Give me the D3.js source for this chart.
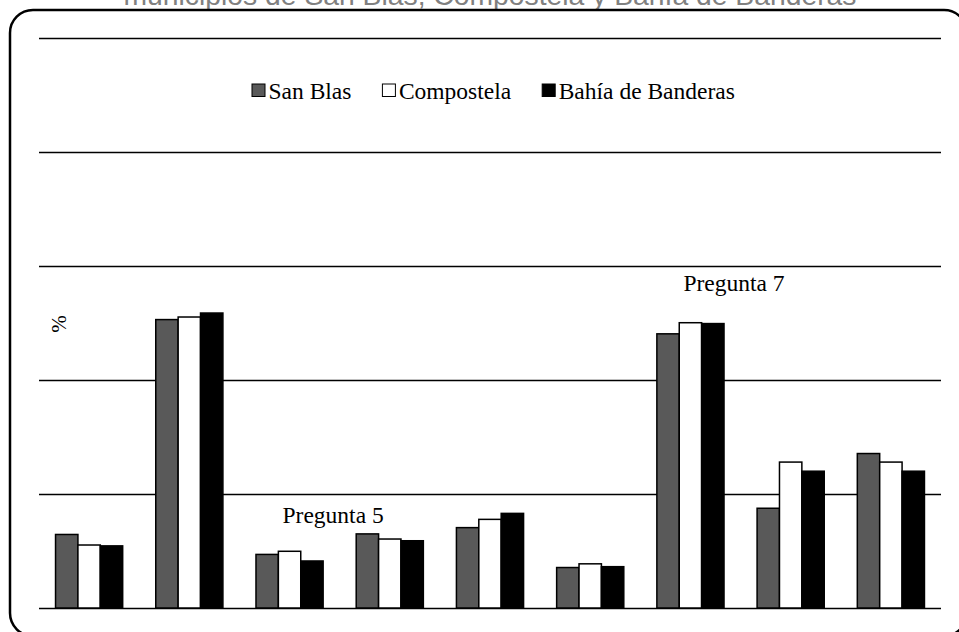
<!DOCTYPE html>
<html>
<head>
<meta charset="utf-8">
<script src="https://cdn.jsdelivr.net/npm/d3@7"></script>
<style>
  html, body { margin: 0; padding: 0; background: #fff; }
  svg { display: block; }
</style>
</head>
<body>
<div id="chart"></div>
<script>
// Survey items (one cluster of bars each)
const categories = ["1", "2", "3", "4", "5", "6", "7", "8", "9"];

// Municipalities
const seriesNames = ["San Blas", "Compostela", "Bahía de Banderas"];
const seriesColors = ["#595959", "#ffffff", "#000000"];

// Percentages per municipality
const sanBlas     = [12.9, 50.6, 9.4, 13.0, 14.1, 7.1, 48.1, 17.5, 27.1];
const compostela  = [11.05, 51.05, 9.95, 12.1, 15.55, 7.75, 50.05, 25.6, 25.6];
const bahia       = [10.9, 51.75, 8.25, 11.8, 16.6, 7.25, 49.9, 24.0, 24.0];

// Y axis gridline values
const yTicks = [0, 20, 40, 60, 80, 100];

// Question annotations: which cluster they sit over and at what value
const noteCats   = ["3", "7"];
const noteTexts  = ["Pregunta 5", "Pregunta 7"];
const noteValues = [15.0, 55.7];

const titleText = "municipios de San Blas, Compostela y Bahía de Banderas";

const W = 959, H = 632;
const svg = d3.select("#chart").append("svg")
  .attr("width", W).attr("height", H);

const plot = { left: 39, right: 941, top: 38, bottom: 608 };

const x0 = d3.scaleBand()
  .domain(categories)
  .range([plot.left, plot.right])
  .paddingInner(0.33)
  .paddingOuter(0.165);

const x1 = d3.scaleBand()
  .domain(seriesNames)
  .range([0, x0.bandwidth()])
  .padding(0);

const y = d3.scaleLinear()
  .domain([0, 100])
  .range([plot.bottom, plot.top]);

const color = d3.scaleOrdinal().domain(seriesNames).range(seriesColors);

const seriesValues = [sanBlas, compostela, bahia];
const rows = categories.map((c, i) => ({
  cat: c,
  values: seriesNames.map((s, j) => ({ key: s, value: seriesValues[j][i] }))
}));

// Title (partly cropped by the top edge)
svg.append("text")
  .attr("x", (plot.left + plot.right) / 2)
  .attr("y", 5)
  .attr("text-anchor", "middle")
  .attr("font-family", "'Liberation Sans', Arial, sans-serif")
  .attr("font-size", 28.3)
  .attr("fill", "#808080")
  .text(titleText);

// Rounded frame
svg.append("rect")
  .attr("x", 10).attr("y", 10)
  .attr("width", 957).attr("height", 626)
  .attr("rx", 23).attr("ry", 23)
  .attr("fill", "none")
  .attr("stroke", "#000")
  .attr("stroke-width", 2.5);

// Horizontal gridlines via a D3 axis
const yAxis = d3.axisLeft(y)
  .tickValues(yTicks)
  .tickSize(-(plot.right - plot.left))
  .tickFormat("");

svg.append("g")
  .attr("transform", `translate(${plot.left},0)`)
  .call(yAxis)
  .call(g => g.select(".domain").remove())
  .call(g => g.selectAll(".tick line")
    .attr("stroke", "#000")
    .attr("stroke-width", 1.3));

// Bars
const groups = svg.append("g").selectAll("g")
  .data(rows)
  .join("g")
  .attr("transform", d => `translate(${x0(d.cat)},0)`);

groups.selectAll("rect")
  .data(d => d.values)
  .join("rect")
  .attr("x", d => x1(d.key))
  .attr("y", d => y(d.value))
  .attr("width", x1.bandwidth())
  .attr("height", d => y(0) - y(d.value))
  .attr("fill", d => color(d.key))
  .attr("stroke", "#000")
  .attr("stroke-width", 1.5);

// Axis unit label
svg.append("text")
  .attr("transform", "translate(66,324) rotate(-90)")
  .attr("text-anchor", "middle")
  .attr("font-family", "'Liberation Serif', 'Times New Roman', serif")
  .attr("font-size", 21)
  .attr("fill", "#000")
  .text("%");

// Question annotations
noteCats.forEach((c, i) => {
  svg.append("text")
    .attr("x", x0(c) + x0.bandwidth() / 2 - 7)
    .attr("y", y(noteValues[i]))
    .attr("font-family", "'Liberation Serif', 'Times New Roman', serif")
    .attr("font-size", 23.5)
    .attr("fill", "#000")
    .text(noteTexts[i]);
});

// Legend
const legend = svg.append("g")
  .attr("font-family", "'Liberation Serif', 'Times New Roman', serif")
  .attr("font-size", 23.5);

let lx = 252;
seriesNames.forEach((s, i) => {
  legend.append("rect")
    .attr("x", lx).attr("y", 84)
    .attr("width", 13).attr("height", 12.5)
    .attr("fill", seriesColors[i])
    .attr("stroke", "#000")
    .attr("stroke-width", 1);
  const t = legend.append("text")
    .attr("x", lx + 16.5)
    .attr("y", 99)
    .attr("fill", "#000")
    .text(s);
  lx += 16.5 + t.node().getComputedTextLength() + 31;
});
</script>
</body>
</html>
